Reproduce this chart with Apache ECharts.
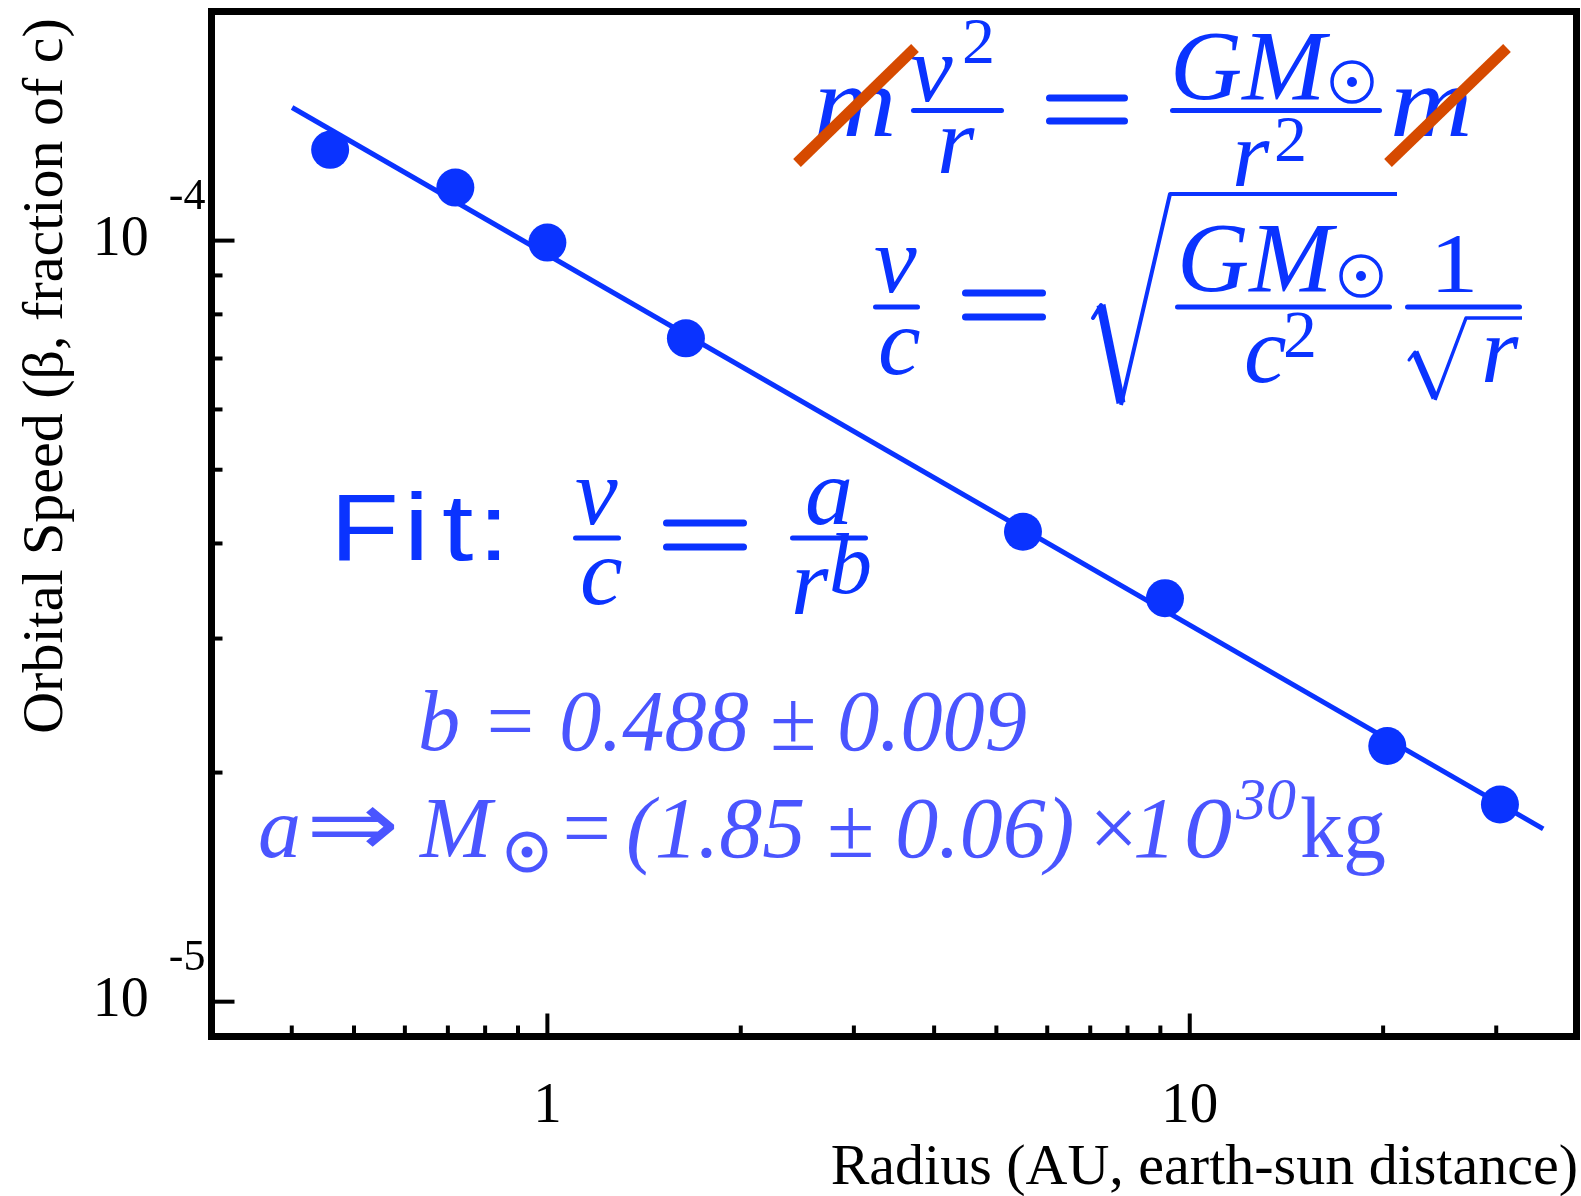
<!DOCTYPE html>
<html><head><meta charset="utf-8">
<script src="https://cdn.jsdelivr.net/npm/echarts@6/dist/echarts.min.js"></script>
<style>html,body{margin:0;padding:0;background:#fff}#c{width:1581px;height:1196px}</style>
</head><body><div id="c"></div>
<script>
// ---- data ----
const radiusAU  = [0.459, 0.719, 1.0, 1.643, 5.50, 9.15, 20.3, 30.4];
const speedBeta = [1.316e-4, 1.174e-4, 0.994e-4, 7.44e-5, 4.145e-5, 3.39e-5, 2.167e-5, 1.816e-5];
const fitRadius = [0.4005, 35.5];
const fitBeta   = [1.496e-4, 1.687e-5];
const xMajorTicks = [1, 10];
const xTickLabels = ['1', '10'];
const xMinorTicks = [0.4, 0.5, 0.6, 0.7, 0.8, 0.9, 2, 3, 4, 5, 6, 7, 8, 9, 20, 30];
const yMajorTicks = [1e-5, 1e-4];
const yTickExponents = ['-5', '-4'];
const yMinorTicks = [2e-5, 3e-5, 4e-5, 5e-5, 6e-5, 7e-5, 8e-5, 9e-5];
const X_MIN = 0.3, X_MAX = 40, Y_MIN = 9e-6, Y_MAX = 2e-4;

const BLUE = '#0a33ff', LBLUE = '#4a55ff', ORANGE = '#d64a00';
const MID = 0.26;

function isPow(v, list) {
  for (let i = 0; i < list.length; i++) {
    if (Math.abs(Math.log10(v) - Math.log10(list[i])) < 1e-6) return i;
  }
  return -1;
}

function tickSeries(values, isX, len) {
  return {
    type: 'custom', silent: true, clip: false, z: 5, animation: false,
    data: values.map(v => isX ? [v, Y_MIN] : [X_MIN, v]),
    encode: { x: 0, y: 1 },
    renderItem: function (params, api) {
      const p = api.coord([api.value(0), api.value(1)]);
      const shape = isX
        ? { x1: p[0], y1: p[1] - 3, x2: p[0], y2: p[1] - 3 - len }
        : { x1: p[0] + 3, y1: p[1], x2: p[0] + 3 + len, y2: p[1] };
      return { type: 'line', shape: shape, style: { stroke: '#000', lineWidth: 4 } };
    }
  };
}

function T(text, x, bl, size, o) {
  o = o || {};
  return {
    type: 'text', x: x, y: bl - MID * size, scaleX: o.sx || 1, z: 10, silent: true,
    style: {
      text: text, fontSize: size, fontFamily: o.ff || 'Liberation Serif',
      fontStyle: o.it ? 'italic' : 'normal', fill: o.c || BLUE,
      align: o.al || 'left', verticalAlign: 'middle',
      textAlign: o.al || 'left', textVerticalAlign: 'middle'
    }
  };
}
function R(x1, x2, yc, h, c) {
  return { type: 'rect', z: 10, silent: true, shape: { x: x1, y: yc - h / 2, width: x2 - x1, height: h, r: h / 2 }, style: { fill: c || BLUE } };
}
function L(pts, w, c, cap) {
  return { type: 'polyline', z: 11, silent: true, shape: { points: pts }, style: { stroke: c || BLUE, lineWidth: w, fill: null, lineCap: cap || 'round', lineJoin: 'round' } };
}
function Sun(cx, cy, r, w, dr, c) {
  return [
    { type: 'circle', z: 10, silent: true, shape: { cx: cx, cy: cy, r: r }, style: { fill: null, stroke: c || BLUE, lineWidth: w } },
    { type: 'circle', z: 10, silent: true, shape: { cx: cx, cy: cy, r: dr }, style: { fill: c || BLUE } }
  ];
}

const g = [];
// Equation 1: m v^2/r = GM/r^2 m
g.push(T('m', 814, 136, 102, { it: 1, sx: 1.12 }));
g.push(T('v', 910, 101, 96, { it: 1 }));
g.push(T('2', 962, 63, 66));
g.push(R(911, 1004, 110.5, 5));
g.push(T('r', 937, 173, 96, { it: 1 }));
g.push(R(1046, 1128, 98, 7), R(1046, 1128, 121, 7));
g.push(T('GM', 1170, 99, 100, { it: 1 }));
g.push(...Sun(1352, 82, 20, 3.5, 5));
g.push(R(1170, 1382, 110.5, 5));
g.push(T('r', 1232, 186, 96, { it: 1 }));
g.push(T('2', 1274, 161, 66));
g.push(T('m', 1390, 136, 102, { it: 1, sx: 1.12 }));
g.push(L([[797, 163], [915, 48]], 11, ORANGE, 'butt'));
g.push(L([[1388, 163], [1507, 48]], 11, ORANGE, 'butt'));

// Equation 2: v/c = sqrt(GM/c^2 * 1/sqrt r)
g.push(T('v', 874, 292, 96, { it: 1 }));
g.push(R(873, 920, 307, 5));
g.push(T('c', 878, 374, 96, { it: 1 }));
g.push(R(962, 1046, 293, 7), R(962, 1046, 317, 7));
g.push(L([[1093, 318], [1101, 305]], 4));
g.push(L([[1101, 305], [1121, 403]], 9, BLUE, 'butt'));
g.push(L([[1121, 405], [1170, 194], [1397, 194]], 4, BLUE, 'butt'));
g.push(T('GM', 1177, 291, 100, { it: 1 }));
g.push(...Sun(1361, 276, 20, 3.5, 5));
g.push(R(1175, 1392, 307, 5));
g.push(T('c', 1244, 382, 96, { it: 1 }));
g.push(T('2', 1283, 357, 68));
g.push(T('1', 1430, 292, 84, { sx: 1.15 }));
g.push(R(1405, 1522, 307, 5));
g.push(L([[1409, 360], [1415, 352]], 3));
g.push(L([[1415, 352], [1435, 398]], 7, BLUE, 'butt'));
g.push(L([[1435, 400], [1466, 318], [1522, 318]], 3.5, BLUE, 'butt'));
g.push(T('r', 1481, 382, 96, { it: 1 }));

// Fit: v/c = a/r^b
g.push(T('F', 330, 559, 94, { ff: 'Liberation Sans', sx: 1.2 }));
g.push(T('i', 404, 559, 94, { ff: 'Liberation Sans', sx: 1.2 }));
g.push(T('t', 442, 559, 94, { ff: 'Liberation Sans', sx: 1.2 }));
g.push(T(':', 478, 559, 94, { ff: 'Liberation Sans', sx: 1.2 }));
g.push(T('v', 575, 524, 96, { it: 1 }));
g.push(R(573, 621, 538, 5));
g.push(T('c', 580, 604, 96, { it: 1 }));
g.push(R(663, 747, 523, 7), R(663, 747, 547, 7));
g.push(T('a', 805, 524, 96, { it: 1 }));
g.push(R(790, 868, 538, 5));
g.push(T('r', 791, 614, 96, { it: 1 }));
g.push(T('b', 829, 593, 86, { it: 1 }));

// results
g.push(T('b = 0.488 \u00b1 0.009', 418, 750, 86, { it: 1, c: LBLUE, sx: 0.98 }));
g.push(T('a', 258, 857, 86, { it: 1, c: LBLUE }));
g.push(T('\u21d2', 306, 856, 93, { ff: 'DejaVu Sans', sx: 1.2, c: LBLUE }));
g.push(T('M', 420, 857, 86, { it: 1, c: LBLUE }));
g.push(...Sun(527, 852, 18, 5, 5.5, LBLUE));
g.push(T('=', 557, 857, 86, { it: 1, c: LBLUE }));
g.push(T('(1.85 \u00b1 0.06)', 626, 857, 86, { it: 1, c: LBLUE }));
g.push(T('\u00d7', 1084, 857, 86, { it: 1, c: LBLUE }));
g.push(T('1', 1133, 857, 86, { it: 1, c: LBLUE }));
g.push(T('0', 1184, 857, 86, { it: 1, c: LBLUE, sx: 1.12 }));
g.push(T('30', 1236, 819, 60, { it: 1, c: LBLUE }));
g.push(T('kg', 1300, 857, 86, { c: LBLUE }));

// axis titles
g.push(T('Radius (AU, earth-sun distance)', 1578, 1184, 58, { c: '#000', al: 'right' }));
g.push({
  type: 'text', x: 62 - MID * 58, y: 376, rotation: Math.PI / 2, z: 10, silent: true,
  style: { text: 'Orbital Speed (\u03b2, fraction of c)', fontSize: 58, fontFamily: 'Liberation Serif', fill: '#000',
    align: 'center', verticalAlign: 'middle', textAlign: 'center', textVerticalAlign: 'middle' }
});

const chart = echarts.init(document.getElementById('c'));
chart.setOption({
  animation: false,
  backgroundColor: '#fff',
  grid: { left: 211.5, right: 4.5, top: 11.5, bottom: 159.5, show: true, borderColor: '#000', borderWidth: 7,
    backgroundColor: 'transparent', containLabel: false, outerBoundsMode: 'none' },
  xAxis: {
    type: 'log', logBase: 10, min: X_MIN, max: X_MAX,
    axisLine: { show: false }, axisTick: { show: false }, splitLine: { show: false },
    axisLabel: {
      margin: 42, fontFamily: 'Liberation Serif', fontSize: 57, color: '#000',
      showMinLabel: false, showMaxLabel: false,
      formatter: function (v) { const i = isPow(v, xMajorTicks); return i >= 0 ? xTickLabels[i] : ''; }
    }
  },
  yAxis: {
    type: 'log', logBase: 10, min: Y_MIN, max: Y_MAX,
    axisLine: { show: false }, axisTick: { show: false }, splitLine: { show: false },
    axisLabel: {
      margin: 6, color: '#000', showMinLabel: false, showMaxLabel: false,
      formatter: function (v) { const i = isPow(v, yMajorTicks); return i >= 0 ? '{b|10}{s|' + yTickExponents[i] + '}' : ''; },
      rich: {
        b: { fontFamily: 'Liberation Serif', fontSize: 56, color: '#000' },
        s: { fontFamily: 'Liberation Serif', fontSize: 44, color: '#000', padding: [0, 0, 86, 20] }
      }
    }
  },
  series: [
    tickSeries(xMinorTicks, true, 8),
    tickSeries(xMajorTicks, true, 20),
    tickSeries(yMinorTicks, false, 8),
    tickSeries(yMajorTicks, false, 20),
    {
      type: 'line', data: fitRadius.map((r, i) => [r, fitBeta[i]]), symbol: 'none', z: 6,
      lineStyle: { color: BLUE, width: 5 }, silent: true
    },
    {
      type: 'scatter', data: radiusAU.map((r, i) => [r, speedBeta[i]]), symbol: 'circle', symbolSize: 38, z: 7,
      itemStyle: { color: BLUE, opacity: 1 }, silent: true
    }
  ],
  graphic: { elements: g }
});
</script>
</body></html>
